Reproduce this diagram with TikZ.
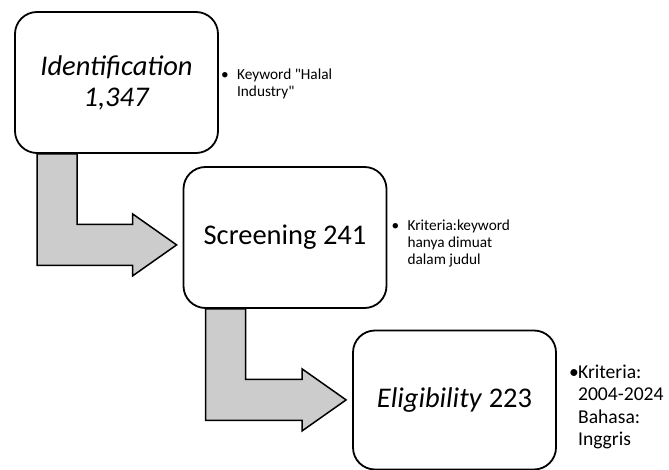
\documentclass[tikz,border=0pt]{standalone}
\usepackage{fontspec}
\setmainfont{Carlito}[Ligatures=TeXOff]
\usetikzlibrary{calc,backgrounds}
\definecolor{arrowgray}{HTML}{CCCCCC}
\tikzset{
  stage/.style={draw,line width=1.8pt,rounded corners=22pt,fill=white,
    minimum width=203pt,minimum height=141pt,inner sep=0pt,align=center,
    font=\fontsize{28.5}{31}\selectfont},
  note/.style={anchor=north west,inner sep=0pt,align=left,
    font=\fontsize{15.3}{17}\selectfont},
  bignote/.style={note,font=\fontsize{19.6}{22.2}\selectfont},
  bent/.style={fill=arrowgray,draw,line width=1.5pt,line join=miter}
}
% bent arrow from the bottom of one box to the left side of the next
\newcommand{\bentarrow}[2]{%
  \coordinate (s) at ($(#1.south west)+(23,0)$);
  \coordinate (m) at ($(s)+(0,91)$);
  \coordinate (tip) at ($(m -| #2.west)+(-6,0)$);
  \draw[bent] (s) -- ++(40,0) |- ($(tip)+(-44,-20.5)$) -- ++(0,-10.5)
    -- (tip) -- ++(-44,31) -- ++(0,-10.5) -| (s) -- cycle;
}
\begin{document}
\begin{tikzpicture}[x=1pt,y=-1pt]
\useasboundingbox (0,0) rectangle (669,470);

\node[stage] (idn) at (116.5,82.5) {\textit{Identification}\\\textit{1,347}};
\node[stage] (scr) at (285,237.5) {Screening 241};
\node[stage,minimum height=139pt] (elg) at (454.5,400) {\textit{Eligibility} 223};

\node[note] (idnnote) at ($(idn.east)+(2,-14)$)
  {\makebox[16pt][l]{\textbullet}Keyword "Halal\\\hspace*{16pt}Industry"};
\node[note] (scrnote) at ($(scr.east)+(4,-18)$)
  {\makebox[16pt][l]{\textbullet}Kriteria:keyword\\\hspace*{16pt}hanya dimuat\\\hspace*{16pt}dalam judul};
\node[bignote] (elgnote) at ($(elg.east)+(12,-35)$)
  {\makebox[9pt][l]{\textbullet}Kriteria:\\\hspace*{9pt}2004-2024\\\hspace*{9pt}Bahasa:\\\hspace*{9pt}Inggris};

\begin{pgfonlayer}{background}
\bentarrow{idn}{scr}
\bentarrow{scr}{elg}
\end{pgfonlayer}
\end{tikzpicture}
\end{document}
